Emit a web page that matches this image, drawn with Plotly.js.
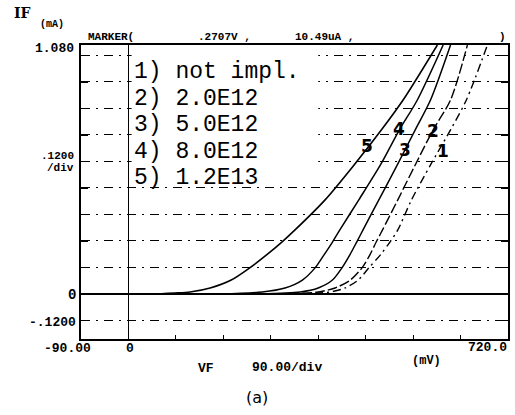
<!DOCTYPE html>
<html>
<head>
<meta charset="utf-8">
<script src="https://cdn.plot.ly/plotly-3.0.1.min.js"></script>
<style>html,body{margin:0;padding:0;background:#fff;}#chart{width:515px;height:415px;}</style>
</head>
<body>
<div id="chart"></div>
<script>
// VF in mV, IF in mA
const x1 = [-90, 307, 383, 411, 436, 456, 478, 496, 511, 537, 573, 611, 641, 681];
const y1 = [0, 0, 0.009, 0.027, 0.063, 0.118, 0.177, 0.235, 0.290, 0.426, 0.584, 0.743, 0.878, 1.127];
const x2 = [-90, 288, 360, 392, 421, 443, 458, 470, 482, 511, 544, 578, 611, 643];
const y2 = [0, 0, 0.009, 0.027, 0.063, 0.118, 0.177, 0.235, 0.290, 0.426, 0.584, 0.743, 0.878, 1.127];
const x3 = [-90, 250, 326, 360, 387, 405, 420, 433, 445, 475, 510, 544, 573, 611];
const y3 = [0, 0, 0.009, 0.027, 0.063, 0.118, 0.177, 0.235, 0.290, 0.426, 0.584, 0.743, 0.878, 1.127];
const x4 = [-90, 174, 254, 297, 330, 354, 371, 387, 401, 437, 478, 514, 548, 597];
const y4 = [0, 0, 0.009, 0.027, 0.063, 0.118, 0.177, 0.235, 0.290, 0.426, 0.584, 0.743, 0.878, 1.127];
const x5 = [-90, 41, 88, 117, 155, 195, 230, 262, 291, 316, 373, 428, 480, 521, 586];
const y5 = [0, 0, 0.0045, 0.009, 0.027, 0.063, 0.118, 0.177, 0.235, 0.290, 0.426, 0.584, 0.743, 0.878, 1.127];

const legendLines = ["1) not impl.", "2) 2.0E12", "3) 5.0E12", "4) 8.0E12", "5) 1.2E13"];
const curveLabels = ["1", "2", "3", "4", "5"];
const curveLabelX = [596, 577, 525, 513, 452];
const curveLabelY = [0.648, 0.738, 0.652, 0.747, 0.670];

const L = 81, R = 508, T = 45, B = 339;
function P(px, py) { return {x: (px - L) / (R - L), y: (B - py) / (B - T)}; }

const mono = "Liberation Mono, DejaVu Sans Mono, monospace";
const lineStyle = [
  {color: "#000", width: 1.4, dash: "8px,4px,2px,4px"},
  {color: "#000", width: 1.4, dash: "10px,3px"},
  {color: "#000", width: 1.5, dash: "solid"},
  {color: "#000", width: 1.5, dash: "solid"},
  {color: "#000", width: 1.6, dash: "solid"}
];
const xs = [x1, x2, x3, x4, x5], ys = [y1, y2, y3, y4, y5];
const traces = xs.map((x, i) => ({
  type: "scatter", mode: "lines", x: x, y: ys[i],
  line: Object.assign({shape: "spline", smoothing: 0.8}, lineStyle[i]),
  showlegend: false, hoverinfo: "skip"
}));

const ann = [];
function txt(text, px, py, opts) {
  const p = P(px, py);
  ann.push(Object.assign({text: text, xref: "paper", yref: "paper", x: p.x, y: p.y,
    showarrow: false, xanchor: "left", yanchor: "middle",
    font: {family: mono, size: 13, color: "#000", weight: "bold"}}, opts || {}));
}
const small = {family: mono, size: 11, color: "#000", weight: "bold"};
// axis label texts
txt("IF", 12, 13, {font: {family: "DejaVu Serif, serif", size: 14, color: "#000", weight: "bold"}});
txt("(mA)", 38, 25, {font: {family: mono, size: 10, color: "#000", weight: "bold"}});
txt("1.080", 76, 48, {xanchor: "right"});
txt(".1200", 76, 156, {xanchor: "right", font: small});
txt("/div", 76, 168, {xanchor: "right", font: small});
txt("0", 78, 295, {xanchor: "right", font: {family: mono, size: 14, color: "#000", weight: "bold"}});
txt("-.1200", 78, 322, {xanchor: "right"});
txt("-90.00", 42, 348);
txt("0", 130, 348, {xanchor: "center"});
txt("VF", 196, 368);
txt("90.00/div", 250, 367);
txt("(mV)", 410, 361, {font: {family: mono, size: 12, color: "#000", weight: "bold"}});
txt("720.0", 509, 347, {xanchor: "right"});
txt("MARKER(", 86, 37, {font: small});
txt(".2707V ,", 196, 37, {font: small});
txt("10.49uA ,", 293, 37, {font: small});
txt(")", 497, 37, {font: small});
txt("(a)", 257, 397, {xanchor: "center", font: {family: "DejaVu Sans, sans-serif", size: 16, color: "#000"}});
// legend text
legendLines.forEach((s, i) => {
  txt(s, 132, 72 + i * 26.5, {font: {family: mono, size: 23, color: "#000"}});
});
// curve number labels
curveLabels.forEach((s, i) => {
  ann.push({text: s, xref: "x", yref: "y", x: curveLabelX[i], y: curveLabelY[i], showarrow: false,
    xanchor: "center", yanchor: "middle", font: {family: "DejaVu Sans, sans-serif", size: 17, color: "#000", weight: "bold"}});
});

const layout = {
  width: 515, height: 415,
  margin: {l: L, r: 515 - R, t: T, b: 415 - B, pad: 0},
  paper_bgcolor: "#fff", plot_bgcolor: "#fff",
  showlegend: false,
  xaxis: {
    range: [-90, 720], showgrid: false, zeroline: true, zerolinecolor: "#000", zerolinewidth: 1.5,
    showline: true, linecolor: "#000", linewidth: 2, mirror: true,
    ticks: "inside", tick0: 0, dtick: 90, ticklen: 4, tickcolor: "#000", tickwidth: 1,
    showticklabels: false, fixedrange: true
  },
  yaxis: {
    range: [-0.204, 1.127], showgrid: true, gridcolor: "#000", gridwidth: 1, griddash: "9px,6px,2px,6px",
    zeroline: true, zerolinecolor: "#000", zerolinewidth: 2.5,
    showline: true, linecolor: "#000", linewidth: 2, mirror: "allticks",
    ticks: "inside", tick0: 0, dtick: 0.12, ticklen: 7, tickcolor: "#000", tickwidth: 1.5,
    showticklabels: false, fixedrange: true
  },
  shapes: [
    {type: "rect", xref: "x", yref: "y", x0: 6, x1: 360, y0: 0.53, y1: 1.12, fillcolor: "#fff", line: {width: 0}, layer: "between"}
  ],
  annotations: ann
};
Plotly.newPlot("chart", traces, layout, {staticPlot: true, displayModeBar: false});
</script>
</body>
</html>
